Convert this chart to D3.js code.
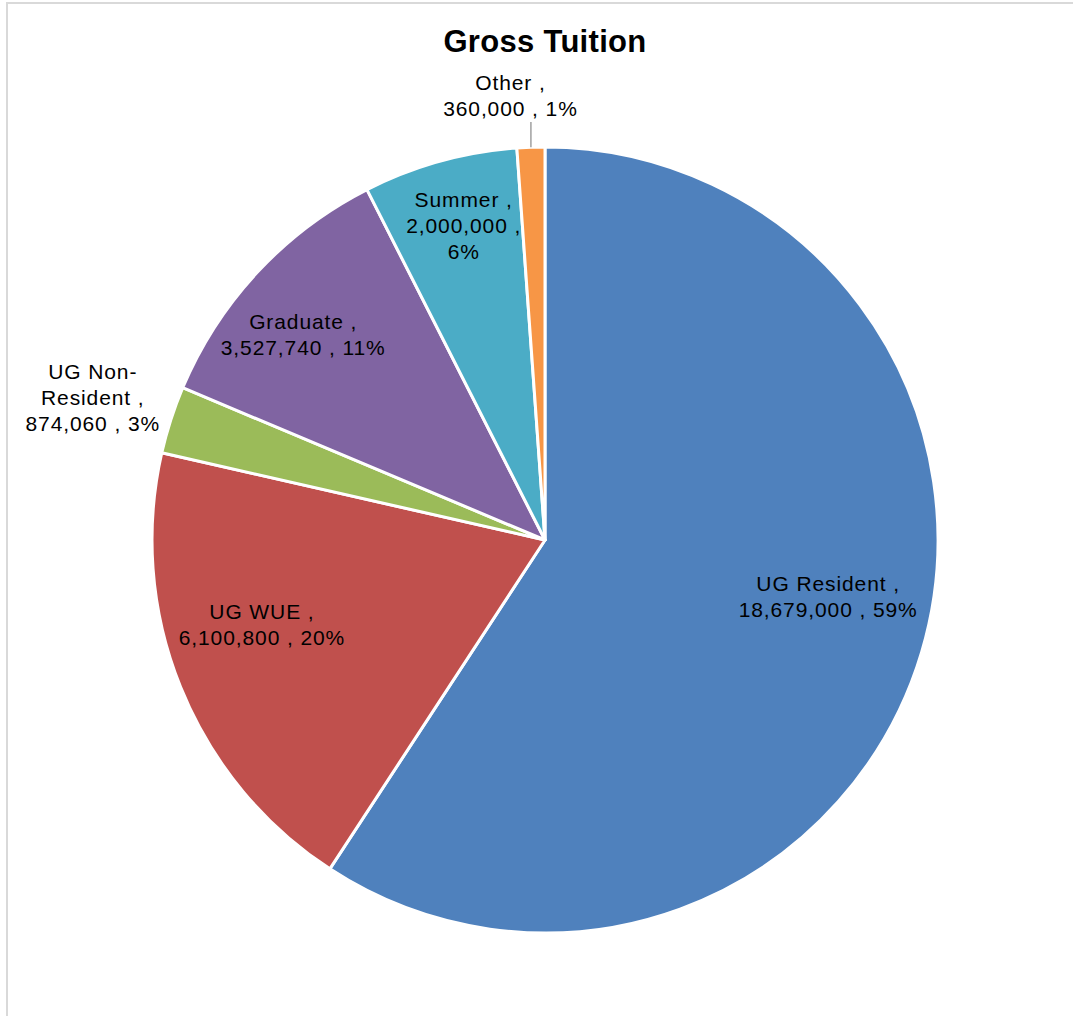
<!DOCTYPE html>
<html>
<head>
<meta charset="utf-8">
<script src="https://cdn.jsdelivr.net/npm/d3@7"></script>
<style>
  body { margin: 0; background: #fff; }
  svg text { font-family: "Liberation Sans", Arial, sans-serif; fill: #000; }
</style>
</head>
<body>
<div id="chart"></div>
<script>
// Data
const categories = ["UG Resident", "UG WUE", "UG Non-Resident", "Graduate", "Summer", "Other"];
const values = [18679000, 6100800, 874060, 3527740, 2000000, 360000];
const pctLabels = ["59%", "20%", "3%", "11%", "6%", "1%"];
const colors = ["#4F81BD", "#C0504D", "#9BBB59", "#8064A2", "#4BACC6", "#F79646"];

// label layout: angle nudge (deg), radius fraction, wrap width (chars), leader line
const labelLayout = [
    { shift: -5.2, f: 0.735, wrap: 16 },
    { shift: 5.3, f: 0.752, wrap: 15 },
    { shift: -0.4, f: 1.206, wrap: 12 },
    { shift: -2.6, f: 0.807, wrap: 15 },
    { shift: 1.0, f: 0.825, wrap: 11 },
    { shift: -2.4, f: 1.133, wrap: 12, leader: 1.064 }
];

const width = 1073, height = 1016;
const cx = 545, cy = 540, radius = 393;
const lineH = 26;

const svg = d3.select("#chart")
    .append("svg")
    .attr("width", width)
    .attr("height", height);

// chart area frame (only top/left show inside the shot)
svg.append("rect")
    .attr("x", 7).attr("y", 3)
    .attr("width", width + 50).attr("height", height + 50)
    .attr("fill", "#fff")
    .attr("stroke", "#d9d9d9")
    .attr("stroke-width", 2);

svg.append("text")
    .attr("x", cx)
    .attr("y", 52)
    .attr("text-anchor", "middle")
    .style("font-size", "31px")
    .style("font-weight", "bold")
    .style("letter-spacing", "0.3px")
    .text("Gross Tuition");

const data = categories.map((c, i) => ({ name: c, value: values[i], pct: pctLabels[i], color: colors[i], layout: labelLayout[i] }));

const pie = d3.pie().sort(null).value(d => d.value);
const arc = d3.arc().innerRadius(0).outerRadius(radius);

const g = svg.append("g").attr("transform", `translate(${cx},${cy})`);

const arcs = pie(data);

g.selectAll("path")
    .data(arcs)
    .join("path")
    .attr("d", arc)
    .attr("fill", d => d.data.color)
    .attr("stroke", "#fff")
    .attr("stroke-width", 3)
    .attr("stroke-linejoin", "round");

// greedy word wrap, allowing a break after a hyphen
function wrap(text, maxChars) {
    const tokens = [];
    text.split(" ").forEach(w => {
        const parts = w.split(/(?<=-)/);
        parts.forEach((p, k) => tokens.push({ t: p, space: k === 0 }));
    });
    const lines = [];
    let cur = "";
    tokens.forEach(tk => {
        if (cur === "") { cur = tk.t; return; }
        const next = cur + (tk.space ? " " : "") + tk.t;
        if (next.length > maxChars) { lines.push(cur); cur = tk.t; }
        else cur = next;
    });
    if (cur) lines.push(cur);
    return lines;
}

const fmt = d3.format(",");

arcs.forEach(d => {
    const L = d.data.layout;
    const mid = (d.startAngle + d.endAngle) / 2;
    const a = mid + L.shift * Math.PI / 180;
    const lx = L.f * radius * Math.sin(a);
    const ly = -L.f * radius * Math.cos(a);

    if (L.leader) {
        const px = radius * Math.sin(mid), py = -radius * Math.cos(mid);
        g.append("line")
            .attr("x1", px).attr("y1", py)
            .attr("x2", px).attr("y2", -L.leader * radius * Math.cos(mid))
            .attr("stroke", "#a0a0a0")
            .attr("stroke-width", 1.5);
    }

    const lines = wrap(`${d.data.name} , ${fmt(d.data.value)} , ${d.data.pct}`, L.wrap);
    const t = g.append("text")
        .attr("text-anchor", "middle")
        .style("font-size", "21px")
        .style("letter-spacing", "0.9px");
    lines.forEach((ln, i) => {
        t.append("tspan")
            .attr("x", lx)
            .attr("y", ly + (i - (lines.length - 1) / 2) * lineH + 7)
            .text(ln);
    });
});
</script>
</body>
</html>
